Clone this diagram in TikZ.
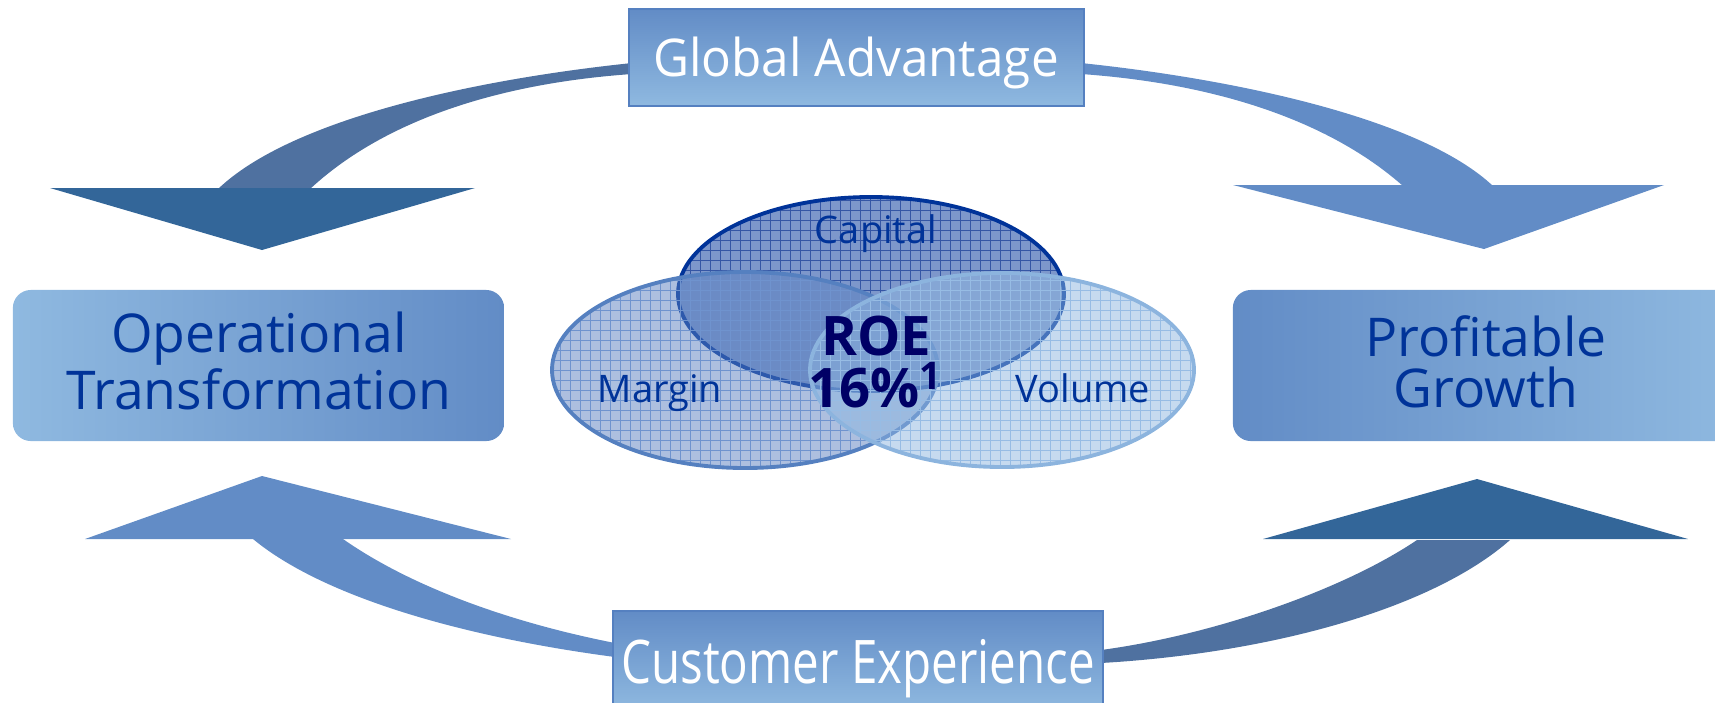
\documentclass[tikz,border=0pt]{standalone}
\usepackage{fontspec}
\setmainfont{Open Sans}
\newfontfamily\cefont[FakeStretch=0.79]{Open Sans}
\newfontfamily\gafont[FakeStretch=0.95]{Open Sans}
\definecolor{darkhead}{HTML}{336699}
\definecolor{shaftdark}{HTML}{4F71A0}
\definecolor{midblue}{HTML}{628CC6}
\definecolor{lightblue}{HTML}{8FB9E0}
\definecolor{txtblue}{HTML}{003399}
\definecolor{navyroe}{HTML}{000066}
\definecolor{capfill}{HTML}{7D97CB}
\definecolor{capgrid}{HTML}{3556A5}
\definecolor{marfill}{HTML}{5B80C0}
\definecolor{margrid}{HTML}{6F93CE}
\definecolor{marline}{HTML}{5580C0}
\definecolor{volfill}{HTML}{8DB5E0}
\definecolor{volgrid}{HTML}{97BCE4}
\definecolor{volline}{HTML}{8CB4DE}
\pgfdeclarelayer{back}
\pgfsetlayers{back,main}
\begin{document}
\begin{tikzpicture}[x=0.01cm,y=-0.01cm,
  sidebox/.style={rounded corners=0.18cm, minimum width=4.91cm, minimum height=1.51cm, inner sep=0pt},
  bandbox/.style={draw=marline, line width=0.4pt, inner sep=0pt, top color=midblue, bottom color=lightblue},
  sidetxt/.style={text=txtblue, font=\fontsize{15.2}{14.5}\selectfont, align=center, inner sep=0pt},
  bandtxt/.style={text=white, inner sep=0pt, anchor=base},
  lbl/.style={text=txtblue, font=\fontsize{10.8}{12}\selectfont, inner sep=0pt, anchor=base},
  roe/.style={text=navyroe, font=\fontsize{15.5}{14.8}\selectfont\bfseries, align=center, inner sep=0pt},
  gridline/.style={line width=0.3pt}]
\useasboundingbox (0,0) rectangle (1715,702);
\clip (0,0) rectangle (1715,702);

% boxes
\node[bandbox, minimum width=4.55cm, minimum height=0.97cm] (ga) at (856.5,57.5) {};
\node[bandbox, minimum width=4.90cm, minimum height=1.00cm] (ce) at (858,661) {};
\node[sidebox, left color=lightblue, right color=midblue] (ot) at (258.5,365.5) {};
\node[sidebox, left color=midblue, right color=lightblue, minimum width=5.07cm] (pg) at (1486.5,365.5) {};

% texts in boxes
\node[bandtxt, font=\gafont\fontsize{14.8}{16}\selectfont] (gat) at (856,76) {Global Advantage};
\node[bandtxt, font=\cefont\fontsize{17.1}{18}\selectfont] (cet) at (858,683) {Customer Experience};
\node[sidetxt] (ott) at (259,361) {Operational\\Transformation};
\node[sidetxt] (pgt) at (1486,362) {Profitable\\Growth};

% arrows
\begin{pgfonlayer}{back}
\fill[shaftdark] (632,63) .. controls (470,80) and (290,120) .. (218,189) -- (310,189) .. controls (380,124) and (490,84) .. (632,74) -- cycle;
\fill[darkhead] (50,188) -- (475,188) -- (262,250) -- cycle;
\fill[midblue] (1081,63) .. controls (1243,80) and (1423,120) .. (1493,186) -- (1403,186) .. controls (1333,124) and (1223,84) .. (1081,74) -- cycle;
\fill[midblue] (1233,185) -- (1664,185) -- (1484,249) -- cycle;
\fill[midblue] (615,657) .. controls (463,637) and (323,597) .. (253,539) -- (343,539) .. controls (413,588) and (513,623) .. (615,643) -- cycle;
\fill[midblue] (85,539) -- (511,539) -- (262,476) -- cycle;
\fill[shaftdark] (1101,663) .. controls (1273,653) and (1433,608) .. (1510,540) -- (1417,540) .. controls (1343,590) and (1213,635) .. (1101,650) -- cycle;
\fill[darkhead] (1263,539) -- (1688,539) -- (1477,479) -- cycle;
\end{pgfonlayer}

% ellipses
\fill[capfill] (871,294) ellipse (193 and 97);
\begin{scope}
\clip (871,294) ellipse (193 and 97);
\draw[gridline, capgrid, step=0.1cm] (600,150) grid (1100,450);
\end{scope}
\draw[txtblue, line width=1.1pt] (871,294) ellipse (193 and 97);

\fill[marfill, fill opacity=0.5] (745,370) ellipse (193 and 98);
\begin{scope}
\clip (745,370) ellipse (193 and 98);
\draw[gridline, margrid, step=0.1cm] (500,250) grid (1000,500);
\end{scope}
\draw[marline, line width=1.1pt] (745,370) ellipse (193 and 98);

\fill[volfill, fill opacity=0.5] (1002,370) ellipse (192 and 97);
\begin{scope}
\clip (1002,370) ellipse (192 and 97);
\draw[gridline, volgrid, step=0.1cm] (780,250) grid (1230,500);
\end{scope}
\draw[volline, line width=1.1pt] (1002,370) ellipse (192 and 97);

% labels
\node[lbl] (cap) at (876,243) {Capital};
\node[lbl] (mar) at (660,402) {Margin};
\node[lbl] (vol) at (1083,402) {Volume};
\node[roe] (roe) at (876,362) {ROE\\16\%\textsuperscript{1}};
\end{tikzpicture}
\end{document}
